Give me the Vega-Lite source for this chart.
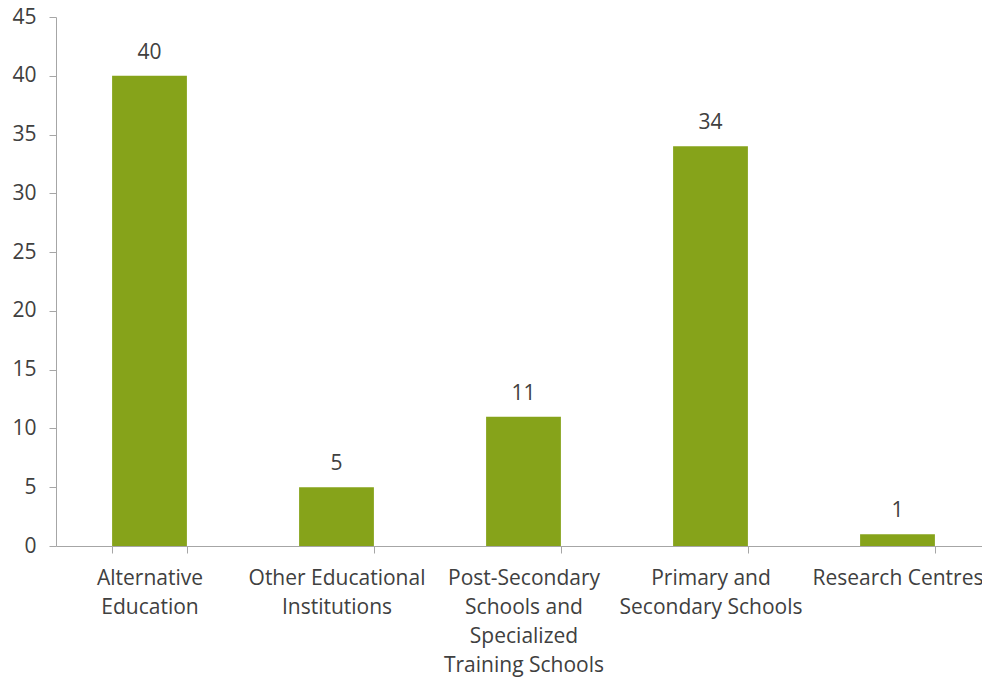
{
  "$schema": "https://vega.github.io/schema/vega-lite/v6.json",
  "autosize": "none",
  "width": 935,
  "height": 529,
  "padding": {"left": 56, "top": 17, "right": 0, "bottom": 133},
  "background": "white",
  "config": {
    "view": {"stroke": null},
    "font": "Open Sans",
    "axis": {
      "labelFont": "Open Sans",
      "labelFontSize": 21,
      "labelColor": "#404040",
      "domainColor": "#a6a6a6",
      "tickColor": "#a6a6a6",
      "ticks": true,
      "grid": false,
      "title": null
    }
  },
  "data": {
    "values": [
      {"category": "Alternative Education", "count": 40},
      {"category": "Other Educational Institutions", "count": 5},
      {"category": "Post-Secondary Schools and Specialized Training Schools", "count": 11},
      {"category": "Primary and Secondary Schools", "count": 34},
      {"category": "Research Centres", "count": 1}
    ]
  },
  "encoding": {
    "x": {
      "field": "category",
      "type": "nominal",
      "sort": null,
      "scale": {"paddingInner": 0.6, "paddingOuter": 0.3},
      "axis": {
        "labelAngle": 0,
        "tickBand": "extent",
        "tickSize": 7,
        "labelPadding": 14,
        "labelBaseline": "top",
        "labelLineHeight": 29,
        "labelLimit": 0,
        "labelExpr": "datum.value == 'Alternative Education' ? ['Alternative', 'Education'] : datum.value == 'Other Educational Institutions' ? ['Other Educational', 'Institutions'] : datum.value == 'Post-Secondary Schools and Specialized Training Schools' ? ['Post-Secondary', 'Schools and', 'Specialized', 'Training Schools'] : datum.value == 'Primary and Secondary Schools' ? ['Primary and', 'Secondary Schools'] : datum.value"
      }
    },
    "y": {
      "field": "count",
      "type": "quantitative",
      "scale": {"domain": [0, 45], "nice": false},
      "axis": {"values": [0, 5, 10, 15, 20, 25, 30, 35, 40, 45], "tickSize": 7, "labelPadding": 13}
    }
  },
  "layer": [
    {"mark": {"type": "bar", "color": "#86a31a"}},
    {
      "mark": {"type": "text", "baseline": "bottom", "dy": -13, "fontSize": 21, "color": "#404040", "font": "Open Sans"},
      "encoding": {"text": {"field": "count", "type": "quantitative"}}
    }
  ]
}
